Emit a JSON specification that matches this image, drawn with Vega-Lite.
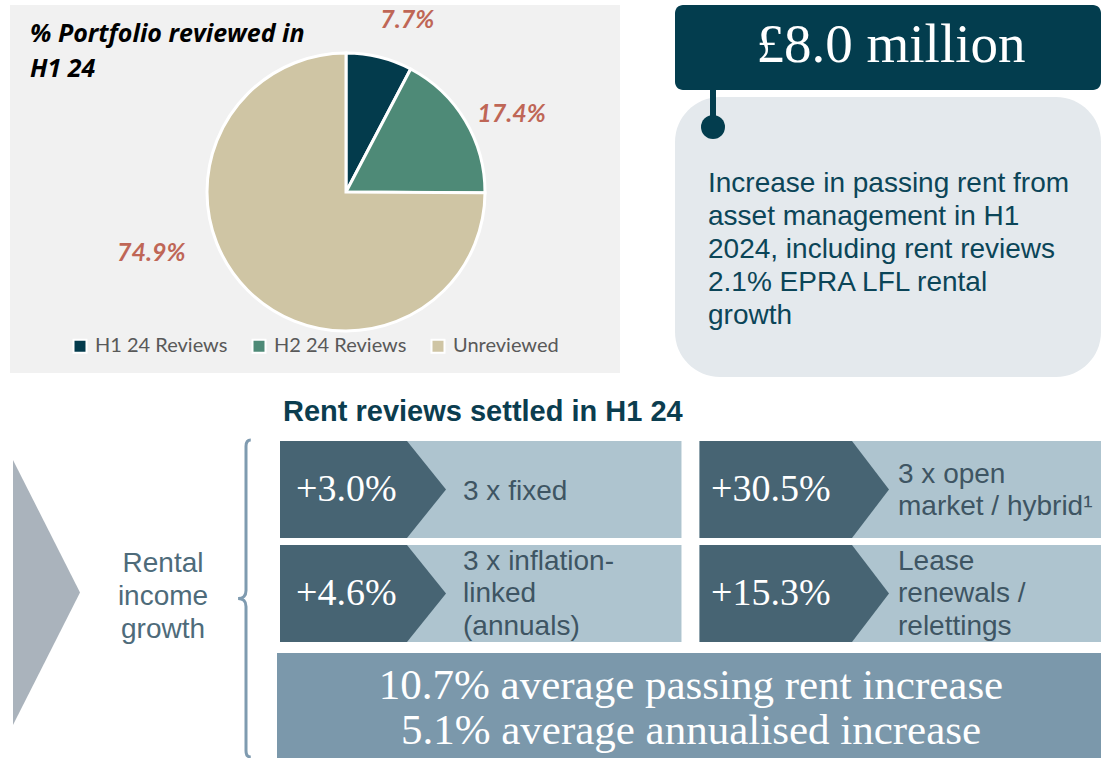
{
  "$schema": "https://vega.github.io/schema/vega-lite/v6.json",
  "width": 1101,
  "height": 758,
  "autosize": {"type": "fit", "contains": "padding"},
  "padding": 0,
  "background": "white",
  "config": {"view": {"stroke": null}, "font": "Liberation Sans"},
  "datasets": {
    "portfolio": [
      {"category": "H1 24 Reviews", "share": 0.077},
      {"category": "H2 24 Reviews", "share": 0.174},
      {"category": "Unreviewed", "share": 0.749}
    ],
    "reviews": [
      {"row": 1, "col": 1, "change": "+3.0%", "type": "3 x fixed"},
      {"row": 1, "col": 2, "change": "+30.5%", "type": "3 x open\nmarket / hybrid¹"},
      {"row": 2, "col": 1, "change": "+4.6%", "type": "3 x inflation-\nlinked\n(annuals)"},
      {"row": 2, "col": 2, "change": "+15.3%", "type": "Lease\nrenewals /\nrelettings"}
    ],
    "notes": [
      {"id": "pie_title", "text": "% Portfolio reviewed in\nH1 24"},
      {"id": "headline", "text": "£8.0 million"},
      {"id": "headline_note", "text": "Increase in passing rent from\nasset management in H1\n2024, including rent reviews\n2.1% EPRA LFL rental\ngrowth"},
      {"id": "reviews_title", "text": "Rent reviews settled in H1 24"},
      {"id": "driver", "text": "Rental\nincome\ngrowth"},
      {"id": "summary", "text": "10.7% average passing rent increase\n5.1% average annualised increase"}
    ]
  },
  "resolve": {"scale": {"x": "independent", "y": "independent"}},
  "layer": [
    {
      "data": {"values": [{}]},
      "mark": {"type": "rect", "color": "#f1f1f1"},
      "encoding": {"x": {"value": 10}, "x2": {"value": 620}, "y": {"value": 5}, "y2": {"value": 373}}
    },
    {
      "data": {"name": "portfolio"},
      "mark": {"type": "arc", "outerRadius": 139, "stroke": "white", "strokeWidth": 3},
      "encoding": {
        "theta": {"field": "share", "type": "quantitative", "stack": true},
        "order": {"field": "share", "type": "quantitative"},
        "color": {
          "field": "category", "type": "nominal",
          "scale": {"domain": ["H1 24 Reviews", "H2 24 Reviews", "Unreviewed"], "range": ["#033b4c", "#4e8a77", "#cfc5a4"]},
          "legend": {
            "orient": "none", "legendX": 70, "legendY": 336, "direction": "horizontal", "title": null,
            "symbolType": "square", "symbolSize": 169, "symbolStrokeColor": "white", "symbolStrokeWidth": 2,
            "symbolOpacity": 1, "labelFont": "Lato", "labelFontSize": 20, "labelColor": "#595959",
            "columnPadding": 20, "labelOffset": 5, "padding": 0
          }
        },
        "x": {"value": 346},
        "y": {"value": 192}
      }
    },
    {
      "data": {"name": "portfolio"},
      "mark": {"type": "text", "radius": 183, "thetaOffset": 0.1, "font": "Lato", "fontSize": 25, "fontWeight": "bold", "fontStyle": "italic", "color": "#bf6656"},
      "encoding": {
        "theta": {"field": "share", "type": "quantitative", "stack": true},
        "order": {"field": "share", "type": "quantitative"},
        "text": {"condition": {"test": "datum.share < 0.5", "field": "share", "format": ".1%"}, "value": ""},
        "x": {"value": 346},
        "y": {"value": 192}
      }
    },
    {
      "data": {"name": "portfolio"},
      "mark": {"type": "text", "radius": 204, "thetaOffset": 0.478, "font": "Lato", "fontSize": 25, "fontWeight": "bold", "fontStyle": "italic", "color": "#bf6656"},
      "encoding": {
        "theta": {"field": "share", "type": "quantitative", "stack": true},
        "order": {"field": "share", "type": "quantitative"},
        "text": {"condition": {"test": "datum.share > 0.5", "field": "share", "format": ".1%"}, "value": ""},
        "x": {"value": 346},
        "y": {"value": 192}
      }
    },
    {
      "data": {"name": "notes"},
      "transform": [{"filter": "datum.id == 'pie_title'"}],
      "mark": {"type": "text", "align": "left", "baseline": "alphabetic", "lineBreak": "\n", "lineHeight": 35, "font": "Open Sans", "fontSize": 25, "fontWeight": "bold", "fontStyle": "italic", "color": "#000000"},
      "encoding": {"text": {"field": "text"}, "x": {"value": 30}, "y": {"value": 42}}
    },
    {
      "data": {"values": [{}]},
      "mark": {"type": "rect", "color": "#e4e9ed", "cornerRadius": 45},
      "encoding": {"x": {"value": 675}, "x2": {"value": 1101}, "y": {"value": 97}, "y2": {"value": 377}}
    },
    {
      "data": {"values": [{}]},
      "mark": {"type": "rect", "color": "#033d4e", "cornerRadius": 8},
      "encoding": {"x": {"value": 675}, "x2": {"value": 1101}, "y": {"value": 5}, "y2": {"value": 90}}
    },
    {
      "data": {"values": [{}]},
      "mark": {"type": "rule", "color": "#033d4e", "strokeWidth": 6},
      "encoding": {"x": {"value": 713}, "y": {"value": 88}, "y2": {"value": 127}}
    },
    {
      "data": {"values": [{}]},
      "mark": {"type": "point", "shape": "circle", "filled": true, "opacity": 1, "size": 576, "color": "#033d4e"},
      "encoding": {"x": {"value": 713}, "y": {"value": 127}}
    },
    {
      "data": {"name": "notes"},
      "transform": [{"filter": "datum.id == 'headline'"}],
      "mark": {"type": "text", "align": "center", "baseline": "alphabetic", "font": "Liberation Serif", "fontSize": 55, "color": "white"},
      "encoding": {"text": {"field": "text"}, "x": {"value": 891}, "y": {"value": 62}}
    },
    {
      "data": {"name": "notes"},
      "transform": [{"filter": "datum.id == 'headline_note'"}],
      "mark": {"type": "text", "align": "left", "baseline": "alphabetic", "lineBreak": "\n", "lineHeight": 33, "font": "Liberation Sans", "fontSize": 28, "color": "#0b4558"},
      "encoding": {"text": {"field": "text"}, "x": {"value": 708}, "y": {"value": 192}}
    },
    {
      "data": {"name": "notes"},
      "transform": [{"filter": "datum.id == 'reviews_title'"}],
      "mark": {"type": "text", "align": "left", "baseline": "alphabetic", "font": "Liberation Sans", "fontSize": 29, "fontWeight": "bold", "color": "#0b3d4f"},
      "encoding": {"text": {"field": "text"}, "x": {"value": 283}, "y": {"value": 421}}
    },
    {
      "data": {"values": [{}]},
      "mark": {"type": "point", "shape": "M-0.253,-1L0.253,0L-0.253,1Z", "filled": true, "opacity": 1, "size": 70225, "color": "#aab3bc", "strokeWidth": 0},
      "encoding": {"x": {"value": 46.5}, "y": {"value": 592.5}}
    },
    {
      "data": {"name": "notes"},
      "transform": [{"filter": "datum.id == 'driver'"}],
      "mark": {"type": "text", "align": "center", "baseline": "alphabetic", "lineBreak": "\n", "lineHeight": 33, "font": "Liberation Sans", "fontSize": 28, "color": "#4e6b7a"},
      "encoding": {"text": {"field": "text"}, "x": {"value": 163}, "y": {"value": 572}}
    },
    {
      "data": {"values": [{}]},
      "mark": {"type": "point", "shape": "M0.03,-1Q0,-1 0,-0.96L0,-0.05Q0,0 -0.05,0Q0,0 0,0.05L0,0.96Q0,1 0.03,1", "filled": false, "opacity": 1, "size": 100489, "color": "#7f9bb0", "strokeWidth": 3},
      "encoding": {"x": {"value": 246}, "y": {"value": 598.5}}
    },
    {
      "data": {"name": "reviews"},
      "mark": {"type": "rect", "color": "#aec4cf"},
      "encoding": {
        "x": {"field": "col", "type": "ordinal", "scale": {"range": [280, 1101], "paddingInner": 0.043, "paddingOuter": 0}, "axis": null},
        "y": {"field": "row", "type": "ordinal", "scale": {"range": [441, 642], "paddingInner": 0.067, "paddingOuter": 0}, "axis": null}
      }
    },
    {
      "data": {"name": "reviews"},
      "mark": {"type": "point", "filled": true, "opacity": 1, "size": 40000, "color": "#476473", "strokeWidth": 0},
      "encoding": {
        "x": {"field": "col", "type": "quantitative", "scale": {"domain": [1, 2], "range": [280, 699.5], "zero": false, "nice": false}, "axis": null},
        "y": {"field": "row", "type": "quantitative", "scale": {"domain": [1, 2], "range": [489.5, 593.5], "zero": false, "nice": false}, "axis": null},
        "shape": {"field": "col", "type": "nominal", "scale": {"domain": [1, 2], "range": ["M0,-0.485L1.27,-0.485L1.66,0L1.27,0.485L0,0.485Z", "M0,-0.485L1.525,-0.485L1.895,0L1.525,0.485L0,0.485Z"]}, "legend": null}
      }
    },
    {
      "data": {"name": "reviews"},
      "mark": {"type": "text", "align": "left", "baseline": "middle", "font": "Liberation Serif", "fontSize": 38, "color": "white"},
      "encoding": {
        "text": {"field": "change"},
        "x": {"field": "col", "type": "quantitative", "scale": {"domain": [1, 2], "range": [296, 711], "zero": false, "nice": false}, "axis": null},
        "y": {"field": "row", "type": "quantitative", "scale": {"domain": [1, 2], "range": [489.5, 593.5], "zero": false, "nice": false}, "axis": null}
      }
    },
    {
      "data": {"name": "reviews"},
      "transform": [{"filter": "length(split(datum.type, '\\n')) == 1"}],
      "mark": {"type": "text", "align": "left", "baseline": "middle", "lineBreak": "\n", "lineHeight": 32.5, "dy": 2, "font": "Liberation Sans", "fontSize": 28, "color": "#3e5563"},
      "encoding": {
        "text": {"field": "type"},
        "x": {"field": "col", "type": "quantitative", "scale": {"domain": [1, 2], "range": [463, 898], "zero": false, "nice": false}, "axis": null},
        "y": {"field": "row", "type": "quantitative", "scale": {"domain": [1, 2], "range": [489.5, 593.5], "zero": false, "nice": false}, "axis": null}
      }
    },
    {
      "data": {"name": "reviews"},
      "transform": [{"filter": "length(split(datum.type, '\\n')) == 2"}],
      "mark": {"type": "text", "align": "left", "baseline": "middle", "lineBreak": "\n", "lineHeight": 32.5, "dy": -15, "font": "Liberation Sans", "fontSize": 28, "color": "#3e5563"},
      "encoding": {
        "text": {"field": "type"},
        "x": {"field": "col", "type": "quantitative", "scale": {"domain": [1, 2], "range": [463, 898], "zero": false, "nice": false}, "axis": null},
        "y": {"field": "row", "type": "quantitative", "scale": {"domain": [1, 2], "range": [489.5, 593.5], "zero": false, "nice": false}, "axis": null}
      }
    },
    {
      "data": {"name": "reviews"},
      "transform": [{"filter": "length(split(datum.type, '\\n')) == 3"}],
      "mark": {"type": "text", "align": "left", "baseline": "middle", "lineBreak": "\n", "lineHeight": 32.5, "dy": -32, "font": "Liberation Sans", "fontSize": 28, "color": "#3e5563"},
      "encoding": {
        "text": {"field": "type"},
        "x": {"field": "col", "type": "quantitative", "scale": {"domain": [1, 2], "range": [463, 898], "zero": false, "nice": false}, "axis": null},
        "y": {"field": "row", "type": "quantitative", "scale": {"domain": [1, 2], "range": [489.5, 593.5], "zero": false, "nice": false}, "axis": null}
      }
    },
    {
      "data": {"values": [{}]},
      "mark": {"type": "rect", "color": "#7b98ab"},
      "encoding": {"x": {"value": 277}, "x2": {"value": 1101}, "y": {"value": 653}, "y2": {"value": 758}}
    },
    {
      "data": {"name": "notes"},
      "transform": [{"filter": "datum.id == 'summary'"}],
      "mark": {"type": "text", "align": "center", "baseline": "alphabetic", "lineBreak": "\n", "lineHeight": 45, "font": "Liberation Serif", "fontSize": 43, "color": "white"},
      "encoding": {"text": {"field": "text"}, "x": {"value": 691}, "y": {"value": 699}}
    }
  ]
}
